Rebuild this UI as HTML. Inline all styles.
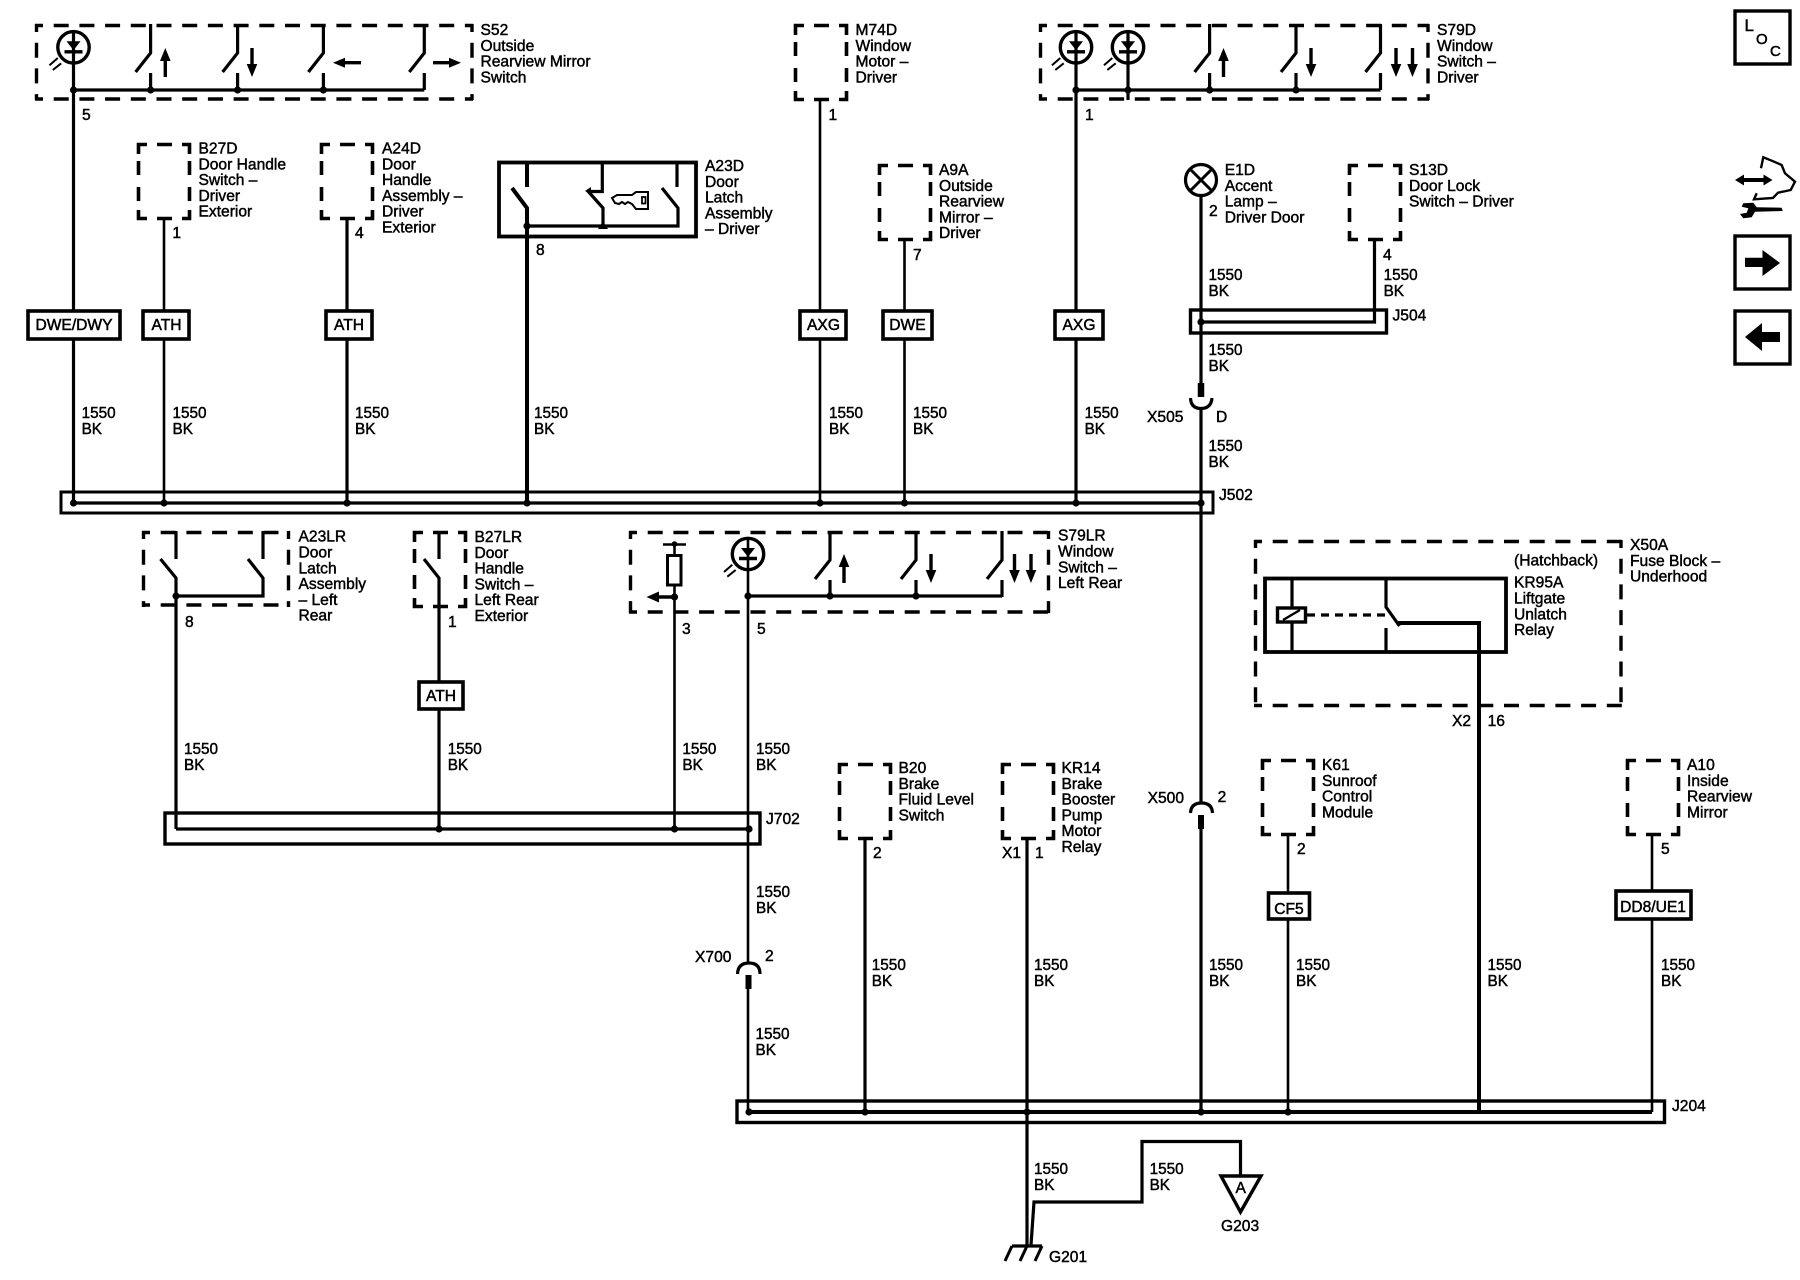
<!DOCTYPE html>
<html><head><meta charset="utf-8"><title>Wiring diagram</title>
<style>
html,body{margin:0;padding:0;background:#fff}
svg{display:block}
text{font-family:"Liberation Sans",sans-serif;font-size:15.6px;fill:#000;stroke:#000;stroke-width:.45}
text.g{font-size:15.3px}
.w{stroke:#000;stroke-width:3.2;fill:none}
.n{stroke:#000;stroke-width:2.6;fill:none}
.k{stroke:#000;stroke-width:4;fill:none}
.d{stroke:#000;stroke-width:3.4;fill:none;stroke-dasharray:15 10.7;stroke-dashoffset:7}
.tag{fill:#fff;stroke:#000;stroke-width:3.6}
.tt{text-anchor:middle;font-size:15.6px;stroke-width:.5}
</style></head><body>
<svg xmlns="http://www.w3.org/2000/svg" width="1800" height="1280" viewBox="0 0 1800 1280">
<defs>
<g id="sb" fill="none" stroke="#000" stroke-width="3.6">
<path d="M1.5 11V1.5H10M20 1.5H35M45 1.5H52.5V11M1.5 18V32M52.5 18V32M1.5 44V58M52.5 44V58M1.5 67V75.5H10M45 75.5H52.5V67M20 75.5H35"/>
</g>
<g id="sw" fill="none" stroke="#000" stroke-width="3.2">
<path d="M0 0V29L-15 48M0 49V66"/>
</g>
<g id="led">
<circle r="15.7" fill="none" stroke="#000" stroke-width="3.4"/>
<polygon points="-7,-6 7,-6 0,3" fill="#000"/>
<path d="M-9 4.500H9" stroke="#000" stroke-width="3.400"/>
<path d="M-24 18L-15.700 10.700M-20.700 22.700L-12.300 16" stroke="#000" stroke-width="2"/>
</g>
<g id="au"><polygon points="0,0 -5.300,13 5.300,13" fill="#000"/><path d="M0 10V29" stroke="#000" stroke-width="3.400"/></g>
<g id="ad"><polygon points="0,29 -5.300,16 5.300,16" fill="#000"/><path d="M0 0V19" stroke="#000" stroke-width="3.400"/></g>
<g id="dot"><circle r="3.6" fill="#000"/></g>
</defs>

<!-- bus bars -->
<rect x="61" y="492" width="1152" height="21" fill="none" stroke="#000" stroke-width="3"/>
<path class="w" d="M73.500 503H1201"/>
<rect x="165" y="813" width="595" height="31" fill="none" stroke="#000" stroke-width="3.400"/>
<path class="w" d="M176 829H749"/>
<rect x="737" y="1101" width="927.500" height="21.500" fill="none" stroke="#000" stroke-width="3.400"/>
<path class="k" d="M749 1112H1652"/>
<rect x="1190.500" y="310" width="196" height="23" fill="none" stroke="#000" stroke-width="3.400"/>
<path class="w" d="M1201 322H1374.500V241"/>

<!-- S52 -->
<path class="d" d="M35 25.500H473M35 99H473M36.500 24V100M472 24V100"/>
<path class="w" d="M73.500 30V503M73.500 90H424.300"/>
<use href="#led" x="73.500" y="47.300"/>
<use href="#sw" x="150.600" y="24"/><use href="#sw" x="237.600" y="24"/><use href="#sw" x="323.400" y="24"/><use href="#sw" x="424.300" y="24"/>
<use href="#au" x="165.300" y="48"/><use href="#ad" x="252" y="48"/>
<polygon points="333,62.700 345,57.700 345,67.700" fill="#000"/><path d="M342 62.700H361" stroke="#000" stroke-width="3.400"/>
<polygon points="461,62.700 449,57.700 449,67.700" fill="#000"/><path d="M433 62.700H452" stroke="#000" stroke-width="3.400"/>
<use href="#dot" x="73.500" y="90"/><use href="#dot" x="150.600" y="90"/><use href="#dot" x="237.600" y="90"/><use href="#dot" x="323.400" y="90"/>

<!-- small boxes -->
<use href="#sb" x="137" y="143"/><use href="#sb" x="320" y="143"/><use href="#sb" x="794" y="24"/>
<use href="#sb" x="878" y="164"/><use href="#sb" x="1348" y="164"/>
<use href="#sb" x="413" y="531"/>
<use href="#sb" x="838" y="763"/><use href="#sb" x="1001" y="763"/>
<use href="#sb" x="1261" y="759"/><use href="#sb" x="1626" y="759"/>

<!-- top wires -->
<path class="n" d="M164 220V503M820 100V503M904.500 241V503"/>
<path class="w" d="M347 220V503"/>

<!-- A23D -->
<rect x="499" y="162.500" width="197" height="74" fill="none" stroke="#000" stroke-width="3.800"/>
<path class="k" d="M527 161V187M512 188L527 208V503"/>
<path class="w" d="M527 226H678V208L662 188M677 161V187"/>
<path class="w" d="M602.300 161V191.500H588M587 190L603 208V226"/>
<use href="#dot" x="527" y="226"/>
<polygon points="598,229 608,229 603,221" fill="#000"/>
<polygon points="585,191 591,187 591,194" fill="#000"/>
<path d="M636 192H648V209H636L632 204L628 202L625 204L622 202L619 204L615 203L612 198L617 195H632Z" fill="none" stroke="#000" stroke-width="2"/>
<rect x="642" y="197" width="3.500" height="6.500" fill="none" stroke="#000" stroke-width="1.800"/>

<!-- S79D -->
<path class="d" d="M1039 25.500H1429M1039 99H1429M1040.500 24V100M1428 24V100"/>
<path class="w" d="M1076 30V503M1076 90H1380.500M1128 30V100"/>
<use href="#led" x="1076" y="47.300"/><use href="#led" x="1128" y="47.300"/>
<use href="#sw" x="1209.600" y="24"/><use href="#sw" x="1296" y="24"/><use href="#sw" x="1380.500" y="24"/>
<use href="#au" x="1223.500" y="48"/><use href="#ad" x="1311" y="48"/><use href="#ad" x="1396" y="48"/><use href="#ad" x="1412.500" y="48"/>
<use href="#dot" x="1076" y="90"/><use href="#dot" x="1128" y="90"/><use href="#dot" x="1209.600" y="90"/><use href="#dot" x="1296" y="90"/>

<!-- E1D -->
<circle cx="1201" cy="180" r="15.500" fill="none" stroke="#000" stroke-width="3.200"/>
<path d="M1190 169L1212 191M1212 169L1190 191" stroke="#000" stroke-width="3"/>
<path class="w" d="M1201 196V383"/>
<path d="M1201 383V397" stroke="#000" stroke-width="6.500"/>
<path class="w" d="M1190.500 398Q1191 408.500 1201 408.500Q1211 408.500 1212 398"/>
<path class="w" d="M1201 408V803"/>
<path class="w" d="M1190.500 813Q1191 803 1201.500 803Q1212 803 1212.500 813"/>
<path d="M1201 815V829" stroke="#000" stroke-width="6"/>
<path class="w" d="M1201 828V1112"/>

<!-- second row -->
<path class="d" d="M142 532.500H290M142 605H290M143.500 531V607M288.500 531V607"/>
<path class="w" d="M176 531V559M160.500 559L176 578V829M263 531V559M248 559L263 578V596H176"/>
<use href="#dot" x="176" y="596"/>
<path class="w" d="M439 531V559M424 559L439 578V829"/>

<path class="d" d="M629 532.500H1050M629 612H1050M630.500 531V613M1048.500 531V613"/>
<circle cx="674.500" cy="544" r="2.800" fill="#000"/>
<path d="M663 544.500H686" stroke="#000" stroke-width="2.600"/>
<path class="n" d="M674.500 544V555"/>
<rect x="667.500" y="555.500" width="13.500" height="29.500" fill="#fff" stroke="#000" stroke-width="3"/>
<path class="n" d="M674.500 585V829"/>
<polygon points="646.500,597 659,591.500 659,602.500" fill="#000"/><path d="M656 597H674" stroke="#000" stroke-width="3.400"/>
<use href="#dot" x="674.500" y="597"/>
<path class="n" d="M748 538V964M748 988V1112"/>
<use href="#led" x="748" y="554"/>
<path class="w" d="M748 596H1002"/>
<use href="#dot" x="748" y="596"/>
<use href="#dot" x="830" y="596"/><use href="#dot" x="916" y="596"/>
<use href="#sw" x="830" y="531"/><use href="#sw" x="916" y="531"/><use href="#sw" x="1002" y="531"/>
<use href="#au" x="844" y="554"/><use href="#ad" x="931" y="554"/><use href="#ad" x="1014.500" y="554"/><use href="#ad" x="1031" y="554"/>

<!-- X50A -->
<path class="d" d="M1254 541.500H1622M1254 705.500H1622M1255.500 540V707M1621 540V707"/>
<rect x="1265" y="578.500" width="241" height="73.500" fill="none" stroke="#000" stroke-width="3.800"/>
<path class="w" d="M1292 579V607M1292 622V652M1386 579V607L1399.500 626M1386 628V652"/>
<rect x="1277.500" y="608" width="28" height="14" fill="#fff" stroke="#000" stroke-width="3.400"/>
<path d="M1283 620L1300 610" stroke="#000" stroke-width="2.400"/>
<path d="M1307 615H1390" stroke="#000" stroke-width="3.200" stroke-dasharray="8 6"/>
<path class="k" d="M1398 623H1479V1112"/>

<!-- lower wires -->
<path class="w" d="M865 840V1112M1027 840V1245"/>
<path class="n" d="M1288 836V1112M1652 836V1112"/>
<path class="w" d="M737.500 974Q738 963 749 963Q760 963 760 974"/>
<path d="M748.500 975V989" stroke="#000" stroke-width="6"/>
<path class="w" d="M1031 1245L1034 1202H1142V1141.500H1240.500V1175"/>
<use href="#dot" x="749" y="1112"/><use href="#dot" x="865" y="1112"/><use href="#dot" x="1027" y="1112"/><use href="#dot" x="1201" y="1112"/><use href="#dot" x="1288" y="1112"/>
<use href="#dot" x="164" y="503"/><use href="#dot" x="347" y="503"/><use href="#dot" x="527" y="503"/><use href="#dot" x="820" y="503"/><use href="#dot" x="904.500" y="503"/><use href="#dot" x="1076" y="503"/><use href="#dot" x="1201" y="503"/><use href="#dot" x="73.500" y="503"/>
<use href="#dot" x="439" y="829"/><use href="#dot" x="674.500" y="829"/><use href="#dot" x="749" y="829"/>
<use href="#dot" x="1201" y="322"/>

<!-- ground -->
<path class="w" d="M1012 1246H1042"/>
<path d="M1012 1246L1005 1261M1027 1246L1020 1261M1042 1246L1035 1261" stroke="#000" stroke-width="3"/>
<polygon points="1221,1176 1261,1176 1240.500,1212" fill="#fff" stroke="#000" stroke-width="3.400"/>

<!-- tags -->
<rect class="tag" x="28" y="311" width="92" height="28"/>
<rect class="tag" x="143" y="311" width="46" height="28"/>
<rect class="tag" x="326" y="311" width="46" height="28"/>
<rect class="tag" x="800" y="311" width="46" height="28"/>
<rect class="tag" x="883" y="311" width="49" height="28"/>
<rect class="tag" x="1055" y="311" width="48" height="28"/>
<rect class="tag" x="419" y="682" width="44" height="27"/>
<rect class="tag" x="1268.500" y="893" width="41" height="26"/>
<rect class="tag" x="1616" y="891" width="75" height="28"/>
<text class="tt" x="74" y="330">DWE/DWY</text>
<text class="tt" x="166.500" y="330">ATH</text>
<text class="tt" x="349" y="330">ATH</text>
<text class="tt" x="823.500" y="330">AXG</text>
<text class="tt" x="907.500" y="330">DWE</text>
<text class="tt" x="1079" y="330">AXG</text>
<text class="tt" x="441" y="701">ATH</text>
<text class="tt" x="1289" y="914">CF5</text>
<text class="tt" x="1653" y="912">DD8/UE1</text>

<!-- component labels -->
<text x="480.500" y="35">S52<tspan x="480.500" dy="15.8">Outside</tspan><tspan x="480.500" dy="15.8">Rearview Mirror</tspan><tspan x="480.500" dy="15.8">Switch</tspan></text>
<text x="198.500" y="153.500">B27D<tspan x="198.500" dy="15.8">Door Handle</tspan><tspan x="198.500" dy="15.8">Switch –</tspan><tspan x="198.500" dy="15.8">Driver</tspan><tspan x="198.500" dy="15.8">Exterior</tspan></text>
<text x="382" y="153.500">A24D<tspan x="382" dy="15.8">Door</tspan><tspan x="382" dy="15.8">Handle</tspan><tspan x="382" dy="15.8">Assembly –</tspan><tspan x="382" dy="15.8">Driver</tspan><tspan x="382" dy="15.8">Exterior</tspan></text>
<text x="705" y="171">A23D<tspan x="705" dy="15.8">Door</tspan><tspan x="705" dy="15.8">Latch</tspan><tspan x="705" dy="15.8">Assembly</tspan><tspan x="705" dy="15.8">– Driver</tspan></text>
<text x="855.500" y="35">M74D<tspan x="855.500" dy="15.8">Window</tspan><tspan x="855.500" dy="15.8">Motor –</tspan><tspan x="855.500" dy="15.8">Driver</tspan></text>
<text x="939" y="175">A9A<tspan x="939" dy="15.8">Outside</tspan><tspan x="939" dy="15.8">Rearview</tspan><tspan x="939" dy="15.8">Mirror –</tspan><tspan x="939" dy="15.8">Driver</tspan></text>
<text x="1437" y="35">S79D<tspan x="1437" dy="15.8">Window</tspan><tspan x="1437" dy="15.8">Switch –</tspan><tspan x="1437" dy="15.8">Driver</tspan></text>
<text x="1224.700" y="175">E1D<tspan x="1224.700" dy="15.8">Accent</tspan><tspan x="1224.700" dy="15.8">Lamp –</tspan><tspan x="1224.700" dy="15.8">Driver Door</tspan></text>
<text x="1409" y="175">S13D<tspan x="1409" dy="15.8">Door Lock</tspan><tspan x="1409" dy="15.8">Switch – Driver</tspan></text>
<text x="298.500" y="541.700">A23LR<tspan x="298.500" dy="15.8">Door</tspan><tspan x="298.500" dy="15.8">Latch</tspan><tspan x="298.500" dy="15.8">Assembly</tspan><tspan x="298.500" dy="15.8">– Left</tspan><tspan x="298.500" dy="15.8">Rear</tspan></text>
<text x="474.500" y="542">B27LR<tspan x="474.500" dy="15.8">Door</tspan><tspan x="474.500" dy="15.8">Handle</tspan><tspan x="474.500" dy="15.8">Switch –</tspan><tspan x="474.500" dy="15.8">Left Rear</tspan><tspan x="474.500" dy="15.8">Exterior</tspan></text>
<text x="1058" y="540.700">S79LR<tspan x="1058" dy="15.8">Window</tspan><tspan x="1058" dy="15.8">Switch –</tspan><tspan x="1058" dy="15.8">Left Rear</tspan></text>
<text x="1630" y="550">X50A<tspan x="1630" dy="15.8">Fuse Block –</tspan><tspan x="1630" dy="15.8">Underhood</tspan></text>
<text x="1514" y="565.700">(Hatchback)</text>
<text x="1514" y="587.700">KR95A<tspan x="1514" dy="15.8">Liftgate</tspan><tspan x="1514" dy="15.8">Unlatch</tspan><tspan x="1514" dy="15.8">Relay</tspan></text>
<text x="1322" y="770">K61<tspan x="1322" dy="15.8">Sunroof</tspan><tspan x="1322" dy="15.8">Control</tspan><tspan x="1322" dy="15.8">Module</tspan></text>
<text x="1687" y="770">A10<tspan x="1687" dy="15.8">Inside</tspan><tspan x="1687" dy="15.8">Rearview</tspan><tspan x="1687" dy="15.8">Mirror</tspan></text>
<text x="898.500" y="773">B20<tspan x="898.500" dy="15.8">Brake</tspan><tspan x="898.500" dy="15.8">Fluid Level</tspan><tspan x="898.500" dy="15.8">Switch</tspan></text>
<text x="1061.500" y="773">KR14<tspan x="1061.500" dy="15.8">Brake</tspan><tspan x="1061.500" dy="15.8">Booster</tspan><tspan x="1061.500" dy="15.8">Pump</tspan><tspan x="1061.500" dy="15.8">Motor</tspan><tspan x="1061.500" dy="15.8">Relay</tspan></text>

<text x="1392.500" y="320.700">J504</text>
<text x="1219" y="500">J502</text>
<text x="766" y="824">J702</text>
<text x="1672" y="1111">J204</text>
<text x="1147" y="422">X505</text><text x="1216" y="422">D</text>
<text x="1147.600" y="803">X500</text><text x="1217.600" y="802">2</text>
<text x="695" y="962">X700</text><text x="765" y="961">2</text>
<text x="1452" y="726">X2</text><text x="1487.600" y="726">16</text>
<text x="1049" y="1262">G201</text>
<text x="1221" y="1231">G203</text>
<text x="1235.500" y="1193">A</text>

<!-- pins -->
<text x="82" y="120">5</text><text x="172.400" y="238">1</text><text x="355" y="238">4</text><text x="536" y="255">8</text>
<text x="828.500" y="120">1</text><text x="913" y="260">7</text><text x="1085" y="120">1</text><text x="1209" y="216">2</text><text x="1383" y="260">4</text>
<text x="185" y="627">8</text><text x="448" y="627">1</text><text x="682" y="634">3</text><text x="757" y="634">5</text>
<text x="873" y="858">2</text><text x="1002" y="858">X1</text><text x="1035" y="858">1</text><text x="1297" y="854">2</text><text x="1661" y="854">5</text>

<!-- 1550 BK -->
<text class="g" x="81.600" y="418">1550<tspan x="81.600" dy="16">BK</tspan></text>
<text class="g" x="172.500" y="418">1550<tspan x="172.500" dy="16">BK</tspan></text>
<text class="g" x="355" y="418">1550<tspan x="355" dy="16">BK</tspan></text>
<text class="g" x="534" y="418">1550<tspan x="534" dy="16">BK</tspan></text>
<text class="g" x="829" y="418">1550<tspan x="829" dy="16">BK</tspan></text>
<text class="g" x="913" y="418">1550<tspan x="913" dy="16">BK</tspan></text>
<text class="g" x="1084.600" y="418">1550<tspan x="1084.600" dy="16">BK</tspan></text>
<text class="g" x="1208.500" y="280">1550<tspan x="1208.500" dy="16">BK</tspan></text>
<text class="g" x="1383.600" y="280">1550<tspan x="1383.600" dy="16">BK</tspan></text>
<text class="g" x="1208.500" y="355">1550<tspan x="1208.500" dy="16">BK</tspan></text>
<text class="g" x="1208.500" y="451">1550<tspan x="1208.500" dy="16">BK</tspan></text>
<text class="g" x="184" y="754">1550<tspan x="184" dy="16">BK</tspan></text>
<text class="g" x="447.700" y="754">1550<tspan x="447.700" dy="16">BK</tspan></text>
<text class="g" x="682.400" y="754">1550<tspan x="682.400" dy="16">BK</tspan></text>
<text class="g" x="756" y="754">1550<tspan x="756" dy="16">BK</tspan></text>
<text class="g" x="756" y="897">1550<tspan x="756" dy="16">BK</tspan></text>
<text class="g" x="755.500" y="1039">1550<tspan x="755.500" dy="16">BK</tspan></text>
<text class="g" x="871.800" y="970">1550<tspan x="871.800" dy="16">BK</tspan></text>
<text class="g" x="1034" y="970">1550<tspan x="1034" dy="16">BK</tspan></text>
<text class="g" x="1209" y="970">1550<tspan x="1209" dy="16">BK</tspan></text>
<text class="g" x="1296" y="970">1550<tspan x="1296" dy="16">BK</tspan></text>
<text class="g" x="1487.500" y="970">1550<tspan x="1487.500" dy="16">BK</tspan></text>
<text class="g" x="1661" y="970">1550<tspan x="1661" dy="16">BK</tspan></text>
<text class="g" x="1034" y="1174">1550<tspan x="1034" dy="16">BK</tspan></text>
<text class="g" x="1149.600" y="1174">1550<tspan x="1149.600" dy="16">BK</tspan></text>

<!-- right icons -->
<rect x="1735" y="11" width="55" height="53" fill="none" stroke="#000" stroke-width="3.400"/>
<text x="1744.500" y="31" style="font-size:17px;stroke-width:.5">L</text>
<text x="1756" y="44" style="font-size:15px;stroke-width:.5">O</text>
<text x="1770" y="56" style="font-size:15px;stroke-width:.5">C</text>
<path d="M1741 180H1767" stroke="#000" stroke-width="4"/>
<polygon points="1735,180 1744,174.500 1744,185.500" fill="#000"/><polygon points="1772.500,180 1763.500,174.500 1763.500,185.500" fill="#000"/>
<path d="M1761 168.300L1763.300 157.300L1771.700 160.700L1781.700 165L1785 173.300L1795 181.700L1790.700 190L1778 192.700L1773 198L1754 199.300L1756.700 193.300" fill="none" stroke="#000" stroke-width="2.400"/>
<polygon points="1743.300,203.300 1753.300,202.700 1756.700,207.300 1781.700,207.700 1782.700,211 1755,211.700 1751.700,217.300 1743.300,218.300 1740,214 1746.700,212.700 1748.300,208.300 1741.700,206.700" fill="#000"/>
<rect x="1735" y="236" width="55" height="53" fill="none" stroke="#000" stroke-width="3.400"/>
<polygon points="1745,257.700 1762.500,257.700 1762.500,250 1780,263 1762.500,276 1762.500,267 1745,267" fill="#000"/>
<rect x="1735" y="311" width="55" height="53" fill="none" stroke="#000" stroke-width="3.400"/>
<polygon points="1780,332 1762,332 1762,323 1745,337 1762,351 1762,342 1780,342" fill="#000"/>
</svg>
</body></html>
